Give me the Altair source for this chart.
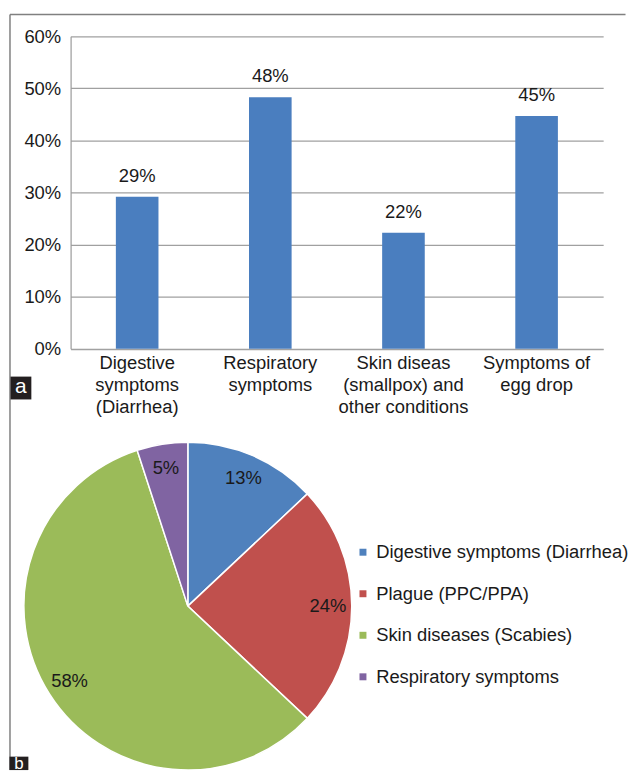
import altair as alt
import pandas as pd

# ---- data ----
bar_categories = [
    "Digestive symptoms (Diarrhea)",
    "Respiratory symptoms",
    "Skin diseas (smallpox) and other conditions",
    "Symptoms of egg drop",
]
bar_label_lines = [
    ["Digestive", "symptoms", "(Diarrhea)"],
    ["Respiratory", "symptoms"],
    ["Skin diseas", "(smallpox) and", "other conditions"],
    ["Symptoms of", "egg drop"],
]
bar_values = [0.292, 0.483, 0.223, 0.447]
y_ticks = [0, 0.1, 0.2, 0.3, 0.4, 0.5, 0.6]

pie_categories = [
    "Digestive symptoms (Diarrhea)",
    "Plague (PPC/PPA)",
    "Skin diseases (Scabies)",
    "Respiratory symptoms",
]
pie_values = [0.13, 0.24, 0.58, 0.05]
pie_colors = ["#4F81BD", "#C0504D", "#9BBB59", "#8064A2"]

FONT = "Liberation Sans"
FS = 18.5

bars_df = pd.DataFrame({"cat": bar_categories, "val": bar_values})
pie_df = pd.DataFrame({"cat": pie_categories, "val": pie_values,
                       "idx": list(range(len(pie_categories)))})
one = pd.DataFrame({"k": [0]})

# multi-line label expression
expr = "''"
for c, lines in reversed(list(zip(bar_categories, bar_label_lines))):
    arr = "[" + ",".join("'" + l + "'" for l in lines) + "]"
    expr = f"datum.label == '{c}' ? {arr} : ({expr})"

W, H = 536, 314.5

x = alt.X("cat:N", sort=bar_categories, title=None,
          scale=alt.Scale(paddingInner=0.68, paddingOuter=0.34),
          axis=alt.Axis(labelAngle=0, labelExpr=expr, labelFontSize=FS,
                        labelFont=FONT, labelColor="#1a1a1a", labelPadding=5,
                        labelBaseline="top", labelLineHeight=22, ticks=False,
                        domainColor="#9a9a9a", domainWidth=1.2, labelLimit=200))
y = alt.Y("val:Q", title=None,
          scale=alt.Scale(domain=[0, 0.6], nice=False),
          axis=alt.Axis(values=y_ticks, format=".0%", labelFontSize=FS,
                        labelFont=FONT, labelColor="#1a1a1a", labelPadding=10,
                        ticks=False, grid=True, gridColor="#a0a0a0",
                        gridWidth=1.2, domainColor="#9a9a9a", domainWidth=1.2))

bars = alt.Chart(bars_df).mark_bar(color="#4A7EBF").encode(x=x, y=y)
bar_text = alt.Chart(bars_df).mark_text(
    fontSize=FS, font=FONT, color="#1a1a1a", baseline="alphabetic", dy=-15
).encode(x=alt.X("cat:N", sort=bar_categories), y="val:Q",
         text=alt.Text("val:Q", format=".0%"))

cx, cy = 118, 573.5
pie = alt.Chart(pie_df).mark_arc(outerRadius=165, stroke="white",
                                 strokeWidth=1.5).encode(
    theta=alt.Theta("val:Q", stack=True),
    order=alt.Order("idx:Q"),
    color=alt.Color("cat:N", sort=pie_categories,
                    scale=alt.Scale(domain=pie_categories, range=pie_colors),
                    legend=alt.Legend(title=None, orient="none",
                                      legendX=285, legendY=510,
                                      symbolType="square", symbolSize=49,
                                      symbolStrokeWidth=0, labelFontSize=FS,
                                      labelFont=FONT, labelColor="#1a1a1a",
                                      labelOffset=4, rowPadding=22.8,
                                      labelLimit=400)),
    x=alt.value(cx), y=alt.value(cy),
)
pie_text = alt.Chart(pie_df).mark_text(
    radius=141, fontSize=FS, font=FONT, color="#1a1a1a", baseline="middle"
).encode(
    theta=alt.Theta("val:Q", stack=True),
    order=alt.Order("idx:Q"),
    text=alt.Text("val:Q", format=".0%"),
    x=alt.value(cx), y=alt.value(cy),
)

border_left = alt.Chart(one).mark_rule(color="#808080", strokeWidth=1.5).encode(
    x=alt.value(-61), y=alt.value(-22), y2=alt.value(738.5))
border_top = alt.Chart(one).mark_rule(color="#808080", strokeWidth=1.5).encode(
    x=alt.value(-61), x2=alt.value(558.5), y=alt.value(-22))

box_a = alt.Chart(one).mark_rect(color="#231F20").encode(
    x=alt.value(-60.5), x2=alt.value(-39.5), y=alt.value(342.5), y2=alt.value(365.5))
text_a = alt.Chart(one).mark_text(text="a", color="white", fontSize=21,
                                  font=FONT, baseline="middle").encode(
    x=alt.value(-50), y=alt.value(353))
box_b = alt.Chart(one).mark_rect(color="#231F20").encode(
    x=alt.value(-61.5), x2=alt.value(-42.5), y=alt.value(725), y2=alt.value(738.5))
text_b = alt.Chart(one).mark_text(text="b", color="white", fontSize=17,
                                  font=FONT, baseline="alphabetic").encode(
    x=alt.value(-52), y=alt.value(737.5))

chart = alt.layer(
    border_left, border_top, bars, bar_text, pie, pie_text,
    box_a, text_a, box_b, text_b
).properties(
    width=W, height=H,
    padding={"left": 1, "top": 3, "right": 0, "bottom": 0},
).configure_view(stroke=None)

chart.save("out.html", embed_options={"renderer": "svg", "actions": False})
